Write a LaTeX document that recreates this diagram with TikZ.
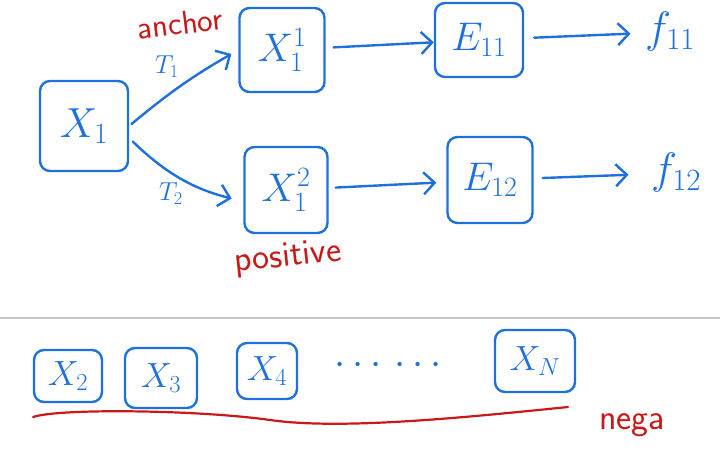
\RequirePackage{fix-cm}
\documentclass[tikz,border=0pt]{standalone}
\usepackage{tikz}
\usetikzlibrary{positioning, arrows.meta, calc}
\definecolor{penBlue}{RGB}{30,112,222}
\definecolor{penRed}{RGB}{200,24,24}
\tikzset{
    sketch/.style={rectangle, draw=penBlue, line width=2.4pt, rounded corners=10pt, text=penBlue, align=center, inner sep=0pt, font=\fontsize{40}{46}\selectfont},
    negBox/.style={sketch, font=\fontsize{35}{40}\selectfont},
    pen/.style={text=penBlue, font=\fontsize{44}{50}\selectfont},
    tag/.style={text=penBlue, font=\fontsize{26}{30}\selectfont},
    note/.style={text=penRed, font=\sffamily\fontsize{36}{42}\selectfont, inner sep=1pt},
    arrow/.style={-{Straight Barb[length=11pt, width=22pt]}, draw=penBlue, line width=2.4pt, line cap=round},
    underline/.style={draw=penRed, line width=2.2pt, line cap=round},
    divider/.style={draw=black!22, line width=1.6pt}
}
\begin{document}
\begin{tikzpicture}[x=1pt, y=-1pt]
    \useasboundingbox (0,0) rectangle (720,454);

    % Views of one sample
    \node[sketch, minimum width=88pt, minimum height=90pt, font=\fontsize{42}{48}\selectfont] (X1) at (84,126) {$X_1$};
    \node[sketch, minimum width=85pt, minimum height=84pt] (X11) at (282,50) {$X_1^1$};
    \node[sketch, minimum width=83pt, minimum height=86pt] (X12) at (286,190) {$X_1^2$};

    % Encoders and features
    \node[sketch, minimum width=88pt, minimum height=74pt] (E11) at (479,40) {$E_{11}$};
    \node[sketch, minimum width=85pt, minimum height=86pt] (E12) at (490,180) {$E_{12}$};
    \node[pen] (f11) at (670,32) {$f_{11}$};
    \node[pen] (f12) at (676,173) {$f_{12}$};

    \draw[arrow, shorten <=3pt, shorten >=8pt] (X1.east) to[bend left=5] node[tag, pos=0.35, above=14pt] {$T_1$} (X11.west);
    \draw[arrow, shorten <=5pt, shorten >=12pt] (X1.-15) to[bend right=15] node[tag, pos=0.4, below=6pt] {$T_2$} (X12.195);

    \draw[arrow, shorten <=8pt] (X11) -- (E11);
    \draw[arrow, shorten <=10pt, shorten >=11pt] (E11) -- (f11);
    \draw[arrow, shorten <=7pt, shorten >=10pt] (X12) -- (E12);
    \draw[arrow, shorten <=9pt, shorten >=19pt] (E12) -- (f12);

    \node[note, rotate=7, font=\sffamily\fontsize{33}{38}\selectfont] (anchorNote) at (180,23) {anchor};
    \node[note, rotate=6] (posNote) at (288,258) {positive};

    % Other samples
    \draw[divider] (0,318) -- (720,318);

    \node[negBox, minimum width=68pt, minimum height=52pt] (X2) at (68,376) {$X_2$};
    \node[negBox, minimum width=72pt, minimum height=60pt] (X3) at (161,378) {$X_3$};
    \node[negBox, minimum width=60pt, minimum height=56pt] (X4) at (267,371) {$X_4$};
    \node[pen, font=\fontsize{40}{44}\selectfont] (gap) at (388,366) {$\cdots\,\cdots$};
    \node[negBox, minimum width=80pt, minimum height=62pt] (XN) at (535,361) {$X_N$};

    \coordinate (negStart) at (33,417);
    \coordinate (negEnd) at (568,407);
    \draw[underline] (negStart) .. controls (60,408) and (200,410) .. (270,420) .. controls (340,430) and (460,418) .. (negEnd);
    \node[note] (negNote) at (632,425) {nega};
\end{tikzpicture}
\end{document}
